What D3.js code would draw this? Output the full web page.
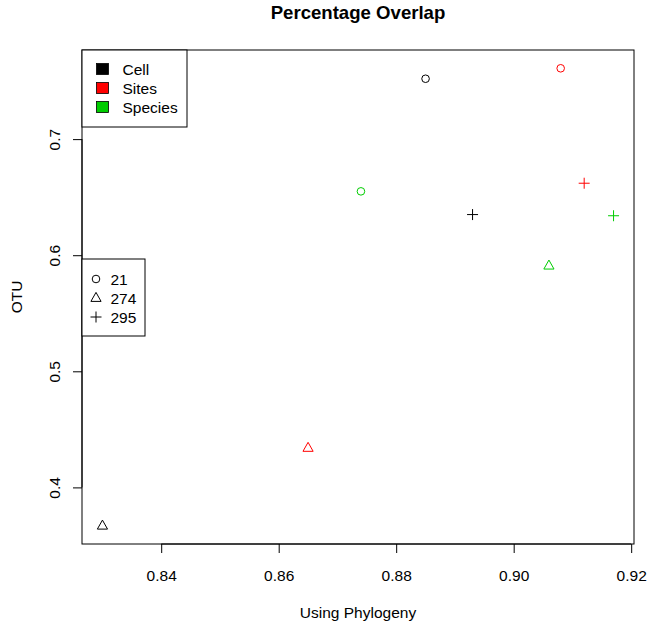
<!DOCTYPE html>
<html>
<head>
<meta charset="utf-8">
<script src="https://cdn.jsdelivr.net/npm/d3@7"></script>
<style>
  html, body { margin: 0; padding: 0; background: #fff; }
  svg { display: block; font-family: "Liberation Sans", Arial, Helvetica, sans-serif; }
</style>
</head>
<body>
<svg id="chart" width="650" height="626"></svg>
<script>
// Overlap measures for three samples, grouped by method
const groups = ["Cell", "Sites", "Species"];
const groupColors = ["#000000", "#FF0000", "#00CD00"];
const samples = ["21", "274", "295"];
const sampleShapes = ["circle", "triangle", "plus"];

// x = overlap using phylogeny, y = overlap using OTUs; one entry per sample (21, 274, 295)
const cellX    = [0.885, 0.830, 0.893];
const cellY    = [0.752, 0.367, 0.635];
const sitesX   = [0.908, 0.865, 0.912];
const sitesY   = [0.761, 0.434, 0.662];
const speciesX = [0.874, 0.906, 0.917];
const speciesY = [0.655, 0.591, 0.634];

const xTicks = [0.84, 0.86, 0.88, 0.90, 0.92];
const yTicks = [0.4, 0.5, 0.6, 0.7];

const seriesX = [cellX, sitesX, speciesX];
const seriesY = [cellY, sitesY, speciesY];
const points = [];
groups.forEach((g, gi) => {
  samples.forEach((s, si) => {
    points.push({ group: gi, sample: si, x: seriesX[gi][si], y: seriesY[gi][si] });
  });
});

const FONT = 15.5;
const svg = d3.select("#chart");
const plot = { left: 82, right: 634, top: 50, bottom: 544 };

// padded domains (4% each side)
function padded(vals) {
  const [lo, hi] = d3.extent(vals);
  const p = (hi - lo) * 0.04;
  return [lo - p, hi + p];
}
const x = d3.scaleLinear().domain(padded(points.map(d => d.x))).range([plot.left, plot.right]);
const y = d3.scaleLinear().domain(padded(points.map(d => d.y))).range([plot.bottom, plot.top]);

// plot frame
svg.append("rect")
  .attr("x", plot.left).attr("y", plot.top)
  .attr("width", plot.right - plot.left).attr("height", plot.bottom - plot.top)
  .attr("fill", "none").attr("stroke", "#000").attr("stroke-width", 1);

// axes
const xAxis = d3.axisBottom(x).tickValues(xTicks).tickFormat(d3.format(".2f")).tickSize(9).tickPadding(17);
const gx = svg.append("g").attr("transform", `translate(0,${plot.bottom})`).call(xAxis);
gx.select(".domain").attr("d", `M${x(xTicks[0])},0H${x(xTicks[xTicks.length - 1])}`);

const yAxis = d3.axisLeft(y).tickValues(yTicks).tickFormat(d3.format(".1f")).tickSize(9).tickPadding(0);
const gy = svg.append("g").attr("transform", `translate(${plot.left},0)`).call(yAxis);
gy.select(".domain").attr("d", `M0,${y(yTicks[0])}V${y(yTicks[yTicks.length - 1])}`);
gy.selectAll(".tick text")
  .attr("x", 0).attr("dy", null)
  .attr("text-anchor", "middle")
  .attr("transform", "translate(-28,0) rotate(-90)")
  .attr("dominant-baseline", "central");

svg.selectAll(".tick text").attr("font-size", FONT).attr("fill", "#000")
  .attr("font-family", "'Liberation Sans', Arial, sans-serif");
svg.selectAll(".domain, .tick line").attr("stroke", "#000");

// titles
svg.append("text").attr("x", (plot.left + plot.right) / 2).attr("y", 19)
  .attr("text-anchor", "middle").attr("font-weight", "bold").attr("font-size", FONT * 1.2)
  .text("Percentage Overlap");
svg.append("text").attr("x", (plot.left + plot.right) / 2).attr("y", 618)
  .attr("text-anchor", "middle").attr("font-size", FONT).text("Using Phylogeny");
svg.append("text").attr("transform", `translate(22,${(plot.top + plot.bottom) / 2}) rotate(-90)`)
  .attr("text-anchor", "middle").attr("font-size", FONT).text("OTU");

// point symbols
function drawSymbol(g, shape, cx, cy, color) {
  if (shape === "circle") {
    g.append("circle").attr("cx", cx).attr("cy", cy).attr("r", 3.8)
      .attr("fill", "none").attr("stroke", color).attr("stroke-width", 1);
  } else if (shape === "triangle") {
    const r = 5.6;
    const pts = [[cx, cy - r], [cx - r * 0.866 * 1.05, cy + r * 0.5 + 0.6], [cx + r * 0.866 * 1.05, cy + r * 0.5 + 0.6]];
    g.append("path").attr("d", "M" + pts.map(p => p.join(",")).join("L") + "Z")
      .attr("fill", "none").attr("stroke", color).attr("stroke-width", 1);
  } else {
    const a = 5.5;
    g.append("path").attr("d", `M${cx - a},${cy}H${cx + a}M${cx},${cy - a}V${cy + a}`)
      .attr("fill", "none").attr("stroke", color).attr("stroke-width", 1);
  }
}

const gp = svg.append("g");
points.forEach(d => drawSymbol(gp, sampleShapes[d.sample], x(d.x), y(d.y), groupColors[d.group]));

// legend: groups (colour)
const lg1 = svg.append("g");
lg1.append("rect").attr("x", plot.left).attr("y", plot.top).attr("width", 105).attr("height", 77)
  .attr("fill", "#fff").attr("stroke", "#000").attr("stroke-width", 1);
groups.forEach((g, i) => {
  const cy = plot.top + 19 + i * 19;
  lg1.append("rect").attr("x", 96.5).attr("y", cy - 5.5).attr("width", 12).attr("height", 11)
    .attr("fill", groupColors[i]).attr("stroke", "#000").attr("stroke-width", 0.8);
  lg1.append("text").attr("x", 122.5).attr("y", cy).attr("dominant-baseline", "central")
    .attr("font-size", FONT).text(g);
});

// legend: samples (shape)
const lg2 = svg.append("g");
lg2.append("rect").attr("x", plot.left).attr("y", 259).attr("width", 63).attr("height", 77)
  .attr("fill", "#fff").attr("stroke", "#000").attr("stroke-width", 1);
samples.forEach((s, i) => {
  const cy = 279 + i * 19;
  drawSymbol(lg2, sampleShapes[i], 96, cy, "#000");
  lg2.append("text").attr("x", 110.5).attr("y", cy).attr("dominant-baseline", "central")
    .attr("font-size", FONT).text(s);
});
</script>
</body>
</html>
